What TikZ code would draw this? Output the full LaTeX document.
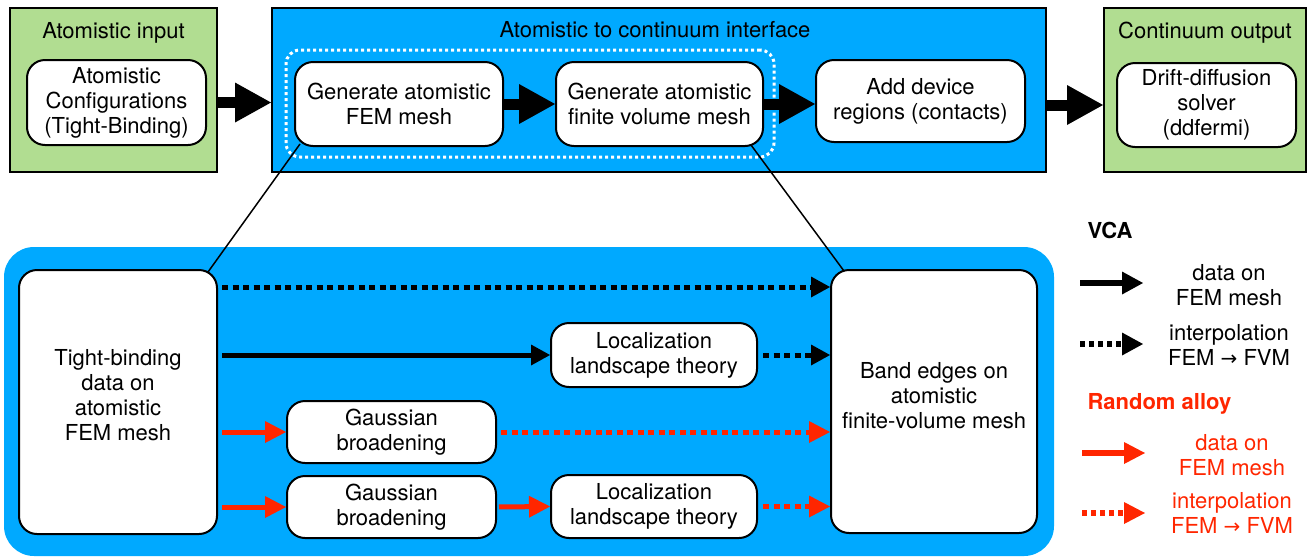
\documentclass[tikz,border=0pt]{standalone}
\usepackage{fontspec}
\setmainfont{TeX Gyre Heros}
\newfontfamily\dejavu{DejaVu Sans}
\usetikzlibrary{arrows.meta,calc}
\definecolor{cgreen}{RGB}{177,221,145}
\definecolor{cblue}{RGB}{0,169,255}
\definecolor{cred}{RGB}{255,38,0}
\tikzset{
  panel/.style={draw, line width=2pt, inner sep=0pt},
  box/.style={draw, line width=2pt, rounded corners=18pt, fill=white, align=center, inner sep=0pt},
  big/.style={line width=11pt, -{Triangle[length=36pt,width=40pt,line width=0pt]}},
  blk/.style={line width=5pt, -{Triangle[length=19pt,width=21pt,line width=0pt]}},
  blkdot/.style={blk, dash pattern=on 6pt off 4.5pt},
  redarr/.style={blk, draw=cred, -{Triangle[length=21pt,width=22pt,line width=0pt,fill=cred]}},
  reddot/.style={redarr, dash pattern=on 6pt off 4.5pt},
  lgblk/.style={line width=6pt, -{Triangle[length=21pt,width=23pt,line width=0pt]}},
  lgdot/.style={lgblk, dash pattern=on 5pt off 4pt},
  lgred/.style={lgblk, draw=cred, -{Triangle[length=21pt,width=22pt,line width=0pt,fill=cred]}},
  lgreddot/.style={lgred, dash pattern=on 5pt off 4pt},
  thin/.style={line width=1.5pt},
  lgtext/.style={align=center, inner sep=0pt}
}
\newcommand{\rarr}{{\dejavu\fontsize{20pt}{25pt}\selectfont →}}
\begin{document}
\begin{tikzpicture}[x=1pt,y=-1pt,font=\fontsize{22pt}{25pt}\selectfont]
\useasboundingbox (0,0) rectangle (1314,558);
% ---------- top row ----------
\node[panel, fill=cgreen, minimum width=207pt, minimum height=164pt] (g1) at (113.5,90) {};
\node (g1t) at (113.5,33) {Atomistic input};
\node[box, minimum width=179pt, minimum height=85pt] (a1) at (116.5,102.5) {Atomistic\\Configurations\\(Tight-Binding)};

\node[panel, fill=cblue, minimum width=774pt, minimum height=164pt] (bb) at (659,90) {};
\node (bbt) at (655,30) {Atomistic to continuum interface};
\node[draw=white, line width=3pt, dash pattern=on 3pt off 3pt, rounded corners=14pt,
      minimum width=488pt, minimum height=107pt, inner sep=0pt] (grp) at (530,103.5) {};
\node[box, minimum width=208pt, minimum height=84pt] (n1) at (399,104) {Generate atomistic\\FEM mesh};
\node[box, minimum width=207pt, minimum height=84pt] (n2) at (659.5,104) {Generate atomistic\\finite volume mesh};
\node[box, minimum width=209pt, minimum height=82pt] (n3) at (920.5,101) {Add device\\regions (contacts)};

\node[panel, fill=cgreen, minimum width=202pt, minimum height=164pt] (g2) at (1205,90) {};
\node (g2t) at (1205,33) {Continuum output};
\node[box, minimum width=179pt, minimum height=84pt] (n4) at (1206.5,105) {Drift-diffusion\\solver\\(ddfermi)};

\draw[big] (g1.east |- a1) -- (bb.west |- a1);
\draw[big] (n1.east) -- (n2.west);
\draw[big] (n2.east) -- (n3.west |- n2.east);
\draw[big] (bb.east |- n4) -- (g2.west |- n4);

% ---------- lower panel ----------
\node[fill=cblue, rounded corners=30pt, minimum width=1050pt, minimum height=309pt, inner sep=0pt] (low) at (529,401.5) {};
\node[box, minimum width=198pt, minimum height=264pt, text depth=14pt] (tb) at (118,402) {Tight-binding\\data on\\atomistic\\FEM mesh};
\node[box, minimum width=206pt, minimum height=263pt, text depth=12pt] (be) at (934,401.5) {Band edges on\\atomistic\\finite-volume mesh};
\node[box, minimum width=206pt, minimum height=64pt] (loc1) at (654,355) {Localization\\landscape theory};
\node[box, minimum width=209pt, minimum height=62pt] (gau1) at (391.5,432) {Gaussian\\broadening};
\node[box, minimum width=209pt, minimum height=62pt] (gau2) at (391.5,507) {Gaussian\\broadening};
\node[box, minimum width=206pt, minimum height=63pt] (loc2) at (654,506.5) {Localization\\landscape theory};

\coordinate (r1) at (0,287);
\draw[blkdot, shorten <=4pt] (tb.east |- r1) -- (be.west |- r1);
\draw[blk, shorten <=4pt] (tb.east |- loc1) -- (loc1.west);
\draw[blkdot, shorten <=5pt] (loc1.east) -- (be.west |- loc1);
\draw[redarr, shorten <=4pt] (tb.east |- gau1) -- (gau1.west);
\draw[reddot, shorten <=4pt] (gau1.east) -- (be.west |- gau1);
\draw[redarr, shorten <=4pt] (tb.east |- gau2) -- (gau2.west);
\draw[redarr, shorten <=2pt] (gau2.east) -- (loc2.west);
\draw[reddot, shorten <=5pt] (loc2.east) -- (be.west |- loc2);

% zoom lines
\draw[thin] ($(tb.north east)+(-10,3)$) -- ($(n1.south west)+(6,-3)$);
\draw[thin] ($(be.north west)+(14,2)$) -- ($(n2.south east)+(-13,-2)$);

% ---------- legend ----------
\node[anchor=west, font=\fontsize{22pt}{25pt}\selectfont\bfseries] (vca) at (1084,230) {VCA};
\coordinate (l1s) at (1080,283); \coordinate (l1e) at (1143,283);
\draw[lgblk] (l1s) -- (l1e);
\node[lgtext] (l1t) at (1229,285) {data on\\FEM mesh};
\coordinate (l2s) at (1080,344); \coordinate (l2e) at (1143,344);
\draw[lgdot] (l2s) -- (l2e);
\node[lgtext] (l2t) at (1229,345) {interpolation\\FEM \rarr{} FVM};

\node[anchor=west, text=cred, font=\fontsize{22pt}{25pt}\selectfont\bfseries] (ra) at (1084,404) {Random alloy};
\coordinate (l3s) at (1082,453); \coordinate (l3e) at (1145,453);
\draw[lgred] (l3s) -- (l3e);
\node[lgtext, text=cred] (l3t) at (1232,455) {data on\\FEM mesh};
\coordinate (l4s) at (1082,513); \coordinate (l4e) at (1145,513);
\draw[lgreddot] (l4s) -- (l4e);
\node[lgtext, text=cred] (l4t) at (1232,513) {interpolation\\FEM \rarr{} FVM};
\end{tikzpicture}
\end{document}
